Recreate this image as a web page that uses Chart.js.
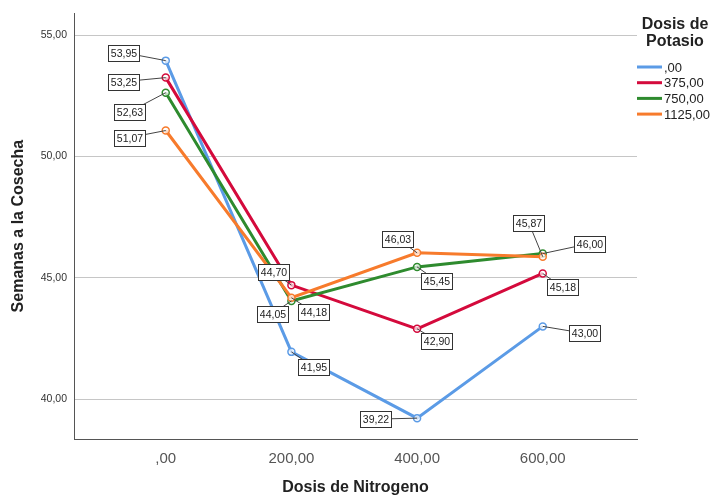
<!DOCTYPE html>
<html>
<head>
<meta charset="utf-8">
<script src="https://cdn.jsdelivr.net/npm/chart.js@4.4.1/dist/chart.umd.min.js"></script>
<style>
    html, body { margin: 0; padding: 0; background: #ffffff; }
</style>
</head>
<body>
<canvas id="chart" width="711" height="497"></canvas>
<script>
// Data
const nitrogenLabels = [',00', '200,00', '400,00', '600,00'];
const potasioLabels = [',00', '375,00', '750,00', '1125,00'];
const semanasK0 = [53.95, 41.95, 39.22, 43.00];
const semanasK375 = [53.25, 44.70, 42.90, 45.18];
const semanasK750 = [52.63, 44.05, 45.45, 46.00];
const semanasK1125 = [51.07, 44.18, 46.03, 45.87];
const yTickValues = [40, 45, 50, 55];

const seriesColors = ['#5b9be6', '#d40a3c', '#2e8b2e', '#f77b2c'];

// where each value box sits relative to its point (px)
const labelOffsets = [
    [[-42, -8], [22, 15], [-41, 1], [42, 7]],
    [[-42, 4], [-18, -13], [20, 12], [20, 14]],
    [[-36, 19], [-19, 13], [20, 14], [47, -10]],
    [[-36, 7], [22, 14], [-19, -14], [-14, -34]]
];

const fontFamily = "'Liberation Sans', Arial, sans-serif";
Chart.defaults.font.family = fontFamily;

// SPSS style number: comma decimal, no leading zero
function fmt(v) {
    let s = Number(v).toFixed(2).replace('.', ',');
    if (s.startsWith('0,')) s = s.slice(1);
    return s;
}

const allSeries = [semanasK0, semanasK375, semanasK750, semanasK1125];

const decorPlugin = {
    id: 'decor',
    afterDatasetsDraw(chart) {
        const ctx = chart.ctx;
        ctx.save();
        ctx.font = '10.5px ' + fontFamily;
        ctx.textAlign = 'center';
        ctx.textBaseline = 'middle';
        chart.data.datasets.forEach((ds, i) => {
            const meta = chart.getDatasetMeta(i);
            meta.data.forEach((pt, j) => {
                const [dx, dy] = labelOffsets[i][j];
                const bx = pt.x + dx;
                const by = pt.y + dy;
                const text = fmt(allSeries[i][j]);
                const w = ctx.measureText(text).width + 5;
                const h = 16;
                // leader line
                ctx.strokeStyle = '#444';
                ctx.lineWidth = 1;
                ctx.beginPath();
                ctx.moveTo(pt.x, pt.y);
                ctx.lineTo(bx, by);
                ctx.stroke();
                // box
                const x0 = Math.round(bx - w / 2) + 0.5;
                const y0 = Math.round(by - h / 2) + 0.5;
                ctx.fillStyle = '#ffffff';
                ctx.fillRect(x0, y0, Math.round(w), h);
                ctx.strokeStyle = '#333';
                ctx.strokeRect(x0, y0, Math.round(w), h);
                ctx.fillStyle = '#222';
                ctx.fillText(text, x0 + Math.round(w) / 2, y0 + h / 2 + 0.5);
            });
        });
        ctx.restore();
    },
    afterDraw(chart) {
        const ctx = chart.ctx;
        const area = chart.chartArea;
        ctx.save();
        ctx.fillStyle = '#222';
        ctx.textBaseline = 'middle';
        ctx.textAlign = 'center';
        ctx.font = 'bold 16px ' + fontFamily;

        // axis titles
        ctx.fillText('Dosis de Nitrogeno', (area.left + area.right) / 2, 488);
        ctx.save();
        ctx.translate(19, (area.top + area.bottom) / 2);
        ctx.rotate(-Math.PI / 2);
        ctx.fillText('Semanas a la Cosecha', 0, 0);
        ctx.restore();

        // legend
        ctx.fillText('Dosis de', 675, 25);
        ctx.fillText('Potasio', 675, 42);
        ctx.font = '13px ' + fontFamily;
        ctx.textAlign = 'left';
        potasioLabels.forEach((lab, i) => {
            const y = 67 + i * 15.7;
            ctx.strokeStyle = seriesColors[i];
            ctx.lineWidth = 3;
            ctx.beginPath();
            ctx.moveTo(637, y);
            ctx.lineTo(662, y);
            ctx.stroke();
            ctx.fillStyle = '#222';
            ctx.fillText(lab, 664, y + 1);
        });
        ctx.restore();
    }
};

const ctx = document.getElementById('chart').getContext('2d');
const chart = new Chart(ctx, {
    type: 'line',
    data: {
        datasets: allSeries.map((series, i) => ({
            label: potasioLabels[i],
            data: series.map((v, j) => ({ x: j, y: v })),
            borderColor: seriesColors[i],
            backgroundColor: seriesColors[i],
            borderWidth: 3,
            tension: 0,
            pointRadius: 3.5,
            pointBorderWidth: 1.5,
            pointBorderColor: seriesColors[i],
            pointBackgroundColor: 'rgba(255, 255, 255, 0.7)',
            order: 3 - i
        }))
    },
    options: {
        responsive: false,
        animation: false,
        layout: {
            padding: { top: 11, right: 74, left: 0, bottom: 0 }
        },
        plugins: {
            legend: { display: false },
            tooltip: { enabled: false }
        },
        scales: {
            x: {
                type: 'linear',
                min: -0.73,
                max: 3.75,
                afterBuildTicks: (axis) => {
                    axis.ticks = nitrogenLabels.map((_, i) => ({ value: i }));
                },
                afterFit: (scale) => { scale.height = 58; },
                ticks: {
                    callback: (v) => nitrogenLabels[Math.round(v)] ?? '',
                    font: { size: 15 },
                    color: '#555',
                    padding: 11,
                    maxRotation: 0
                },
                grid: { display: false, drawTicks: false },
                border: { color: '#555', width: 1 }
            },
            y: {
                min: 38.36,
                max: 55.9,
                afterBuildTicks: (axis) => {
                    axis.ticks = yTickValues.map(v => ({ value: v }));
                },
                afterFit: (scale) => { scale.width = 74; },
                ticks: {
                    callback: (v) => fmt(v),
                    font: { size: 10.5 },
                    color: '#333',
                    padding: 7
                },
                grid: { color: '#c6c6c6', drawTicks: false, lineWidth: 1 },
                border: { color: '#555', width: 1 }
            }
        }
    },
    plugins: [decorPlugin]
});
</script>
</body>
</html>
